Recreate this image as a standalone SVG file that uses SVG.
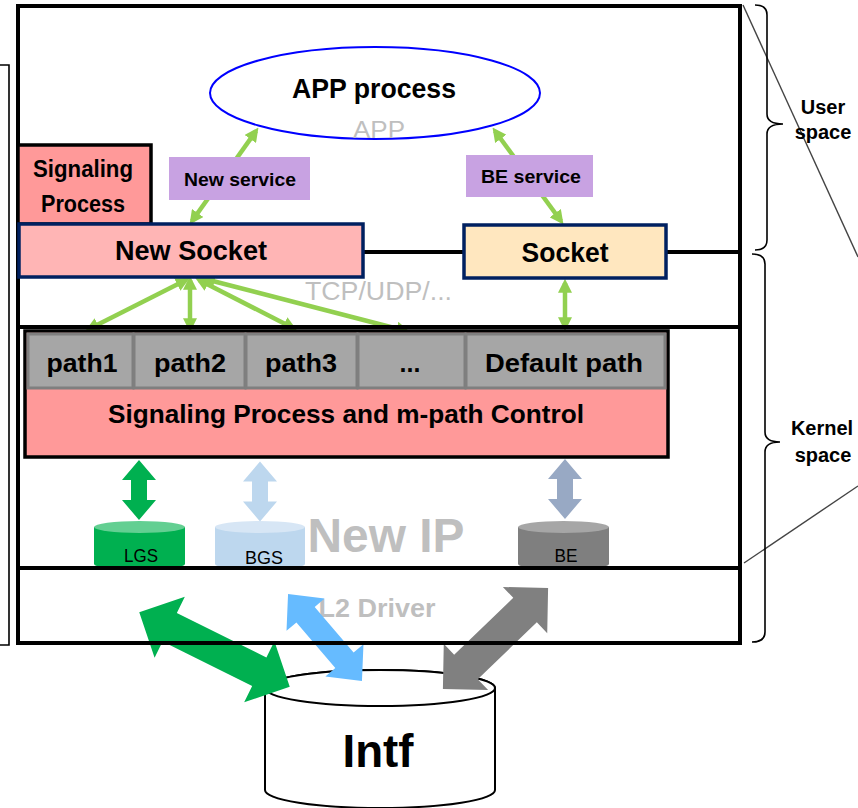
<svg xmlns="http://www.w3.org/2000/svg" width="858" height="808" viewBox="0 0 858 808">
<style>
.t{font-family:"Liberation Sans",Arial,sans-serif;font-weight:bold;fill:#000;text-anchor:middle}
.g{font-family:"Liberation Sans",Arial,sans-serif;fill:#bfbfbf;text-anchor:middle}
.frame{fill:none;stroke:#000;stroke-width:4}
.thin{fill:none;stroke:#000;stroke-width:1.6}
.diag{fill:none;stroke:#444;stroke-width:1.4}
.ga{stroke:#92d050;stroke-width:4.5;fill:none;marker-start:url(#ah);marker-end:url(#ah)}
.svc{fill:#c8a2e2}
.cell{fill:#a6a6a6;stroke:#7f7f7f;stroke-width:3}
</style>
<defs>
<marker id="ah" viewBox="0 0 10 10" refX="7" refY="5" markerWidth="14" markerHeight="14" markerUnits="userSpaceOnUse" orient="auto-start-reverse">
<path d="M0,0 L10,5 L0,10 z" fill="#92d050"/>
</marker>
<polygon id="vdbl" points="0,-30 -17,-10 -8,-10 -8,10 -17,10 0,30 17,10 8,10 8,-10 17,-10"/>
</defs>
<rect width="858" height="808" fill="#fff"/>

<!-- left bracket -->
<path class="thin" d="M0,65 L9,65 L9,645 L0,645"/>

<!-- side annotations -->
<g id="side">
<path class="diag" d="M743,5 L858,257"/>
<path class="diag" d="M744,563 L858,486"/>
<path class="thin" d="M755,5 Q767,5 767,15 L767,114 Q767,124 783,124 Q767,124 767,134 L767,240 Q767,250 755,250"/>
<path class="thin" d="M752,254 Q765,254 765,264 L765,432 Q765,442 780,442 Q765,442 765,452 L765,632 Q765,642 752,642"/>
<text class="t" x="823" y="114" font-size="20">User</text>
<text class="t" x="823" y="139" font-size="20">space</text>
<text class="t" x="822" y="435" font-size="20">Kernel</text>
<text class="t" x="823" y="462" font-size="20">space</text>
</g>

<!-- Intf cylinder -->
<g id="intf">
<path d="M265,688 L265,790 A115,18 0 0 0 495,790 L495,688 A115,18 0 0 0 265,688 z" fill="#fff" stroke="#000" stroke-width="2"/>
<ellipse cx="380" cy="688" rx="115" ry="18" fill="#fff" stroke="#000" stroke-width="2"/>
<text class="t" x="378" y="767" font-size="46" textLength="71" lengthAdjust="spacingAndGlyphs">Intf</text>
</g>

<text class="g" x="377" y="617" font-size="25" font-weight="bold" textLength="117" lengthAdjust="spacingAndGlyphs">L2 Driver</text>

<!-- big arrows to Intf -->
<g id="connectors">
<polygon fill="#00b050" transform="translate(214.5,649.5) rotate(26.4)" points="-84,0 -50,-34 -50,-16 50,-16 50,-34 84,0 50,34 50,16 -50,16 -50,34"/>
<polygon fill="#66bbff" transform="translate(325,637.5) rotate(49.6)" points="-57,0 -30,-25 -30,-12 30,-12 30,-25 57,0 30,25 30,12 -30,12 -30,25"/>
<polygon fill="#808080" transform="translate(495.5,638.5) rotate(-43.9)" points="-73,0 -41,-32 -41,-17 41,-17 41,-32 73,0 41,32 41,17 -41,17 -41,32"/>

<use href="#vdbl" x="139" y="490" fill="#00b050"/>
<use href="#vdbl" x="260" y="491.5" fill="#bdd7ee"/>
<use href="#vdbl" x="565" y="489" fill="#98a9c4"/>

<line class="ga" x1="256" y1="131" x2="192" y2="221"/>
<line class="ga" x1="495" y1="131" x2="561" y2="221"/>
<line class="ga" x1="565" y1="283" x2="565" y2="327"/>
<line class="ga" x1="186" y1="280" x2="89" y2="329"/>
<line class="ga" x1="190" y1="280" x2="190" y2="328"/>
<line class="ga" x1="199" y1="280" x2="293" y2="328"/>
<line class="ga" x1="205" y1="279" x2="406" y2="331"/>
</g>

<!-- frame -->
<g id="frame">
<rect class="frame" x="18" y="6" width="722" height="637"/>
<line class="frame" x1="18" y1="252" x2="740" y2="252"/>
<line class="frame" x1="18" y1="327" x2="740" y2="327"/>
<line class="frame" x1="18" y1="568" x2="740" y2="568"/>
</g>

<!-- APP -->
<g id="app">
<ellipse cx="375" cy="93" rx="165" ry="46" fill="none" stroke="#0000ff" stroke-width="2"/>
<text class="t" x="374" y="98" font-size="28" textLength="164" lengthAdjust="spacingAndGlyphs">APP process</text>
<text class="g" x="379" y="138" font-size="24" textLength="52" lengthAdjust="spacingAndGlyphs">APP</text>
</g>

<g id="new-service">
<rect class="svc" x="169" y="157" width="141" height="43"/>
<text class="t" x="240" y="186" font-size="19" textLength="112" lengthAdjust="spacingAndGlyphs">New service</text>
</g>
<g id="be-service">
<rect class="svc" x="466" y="155" width="127" height="42"/>
<text class="t" x="531" y="183" font-size="19" textLength="100" lengthAdjust="spacingAndGlyphs">BE service</text>
</g>

<g id="signaling-process">
<rect x="18" y="145" width="133" height="79" fill="#ff9999" stroke="#000" stroke-width="3.5"/>
<text class="t" x="83" y="177" font-size="23" textLength="100" lengthAdjust="spacingAndGlyphs">Signaling</text>
<text class="t" x="83" y="212" font-size="23" textLength="84" lengthAdjust="spacingAndGlyphs">Process</text>
</g>

<g id="new-socket">
<rect x="19" y="224" width="344" height="53" fill="#ffb5b5" stroke="#002060" stroke-width="3.5"/>
<text class="t" x="191" y="260" font-size="27" textLength="152" lengthAdjust="spacingAndGlyphs">New Socket</text>
</g>
<g id="socket">
<rect x="464" y="225" width="202" height="53" fill="#ffe7bf" stroke="#002060" stroke-width="3.5"/>
<text class="t" x="565" y="262" font-size="27" textLength="87" lengthAdjust="spacingAndGlyphs">Socket</text>
</g>

<text class="g" x="305" y="300" font-size="26" text-anchor="start" style="text-anchor:start" textLength="147" lengthAdjust="spacingAndGlyphs">TCP/UDP/...</text>

<!-- kernel control -->
<g id="mpath-control">
<rect x="25" y="331" width="643" height="126" fill="#ff9999" stroke="#000" stroke-width="3.5"/>
<text class="t" x="346" y="423" font-size="26" textLength="476" lengthAdjust="spacingAndGlyphs">Signaling Process and m-path Control</text>
</g>
<g id="path1"><rect class="cell" x="28" y="334" width="105" height="54"/><text class="t" x="82" y="372" font-size="25" textLength="71" lengthAdjust="spacingAndGlyphs">path1</text></g>
<g id="path2"><rect class="cell" x="134" y="334" width="111" height="54"/><text class="t" x="190" y="372" font-size="25" textLength="72" lengthAdjust="spacingAndGlyphs">path2</text></g>
<g id="path3"><rect class="cell" x="246" y="334" width="111" height="54"/><text class="t" x="301" y="372" font-size="25" textLength="72" lengthAdjust="spacingAndGlyphs">path3</text></g>
<g id="path-more"><rect class="cell" x="358" y="334" width="107" height="54"/><text class="t" x="410" y="372" font-size="25">...</text></g>
<g id="default-path"><rect class="cell" x="466" y="334" width="199" height="54"/><text class="t" x="564" y="372" font-size="25" textLength="158" lengthAdjust="spacingAndGlyphs">Default path</text></g>

<text class="g" x="386" y="552" font-size="48" font-weight="bold" textLength="157" lengthAdjust="spacingAndGlyphs">New IP</text>

<!-- queues -->
<g id="lgs">
<path d="M94,527 L94,564 A45.5,6 0 0 0 185,564 L185,527 z" fill="#00b050"/>
<ellipse cx="139.5" cy="527" rx="45.5" ry="6" fill="#63cf92"/>
<text x="141" y="562" font-family="Liberation Sans,Arial,sans-serif" font-size="18" text-anchor="middle" textLength="34" lengthAdjust="spacingAndGlyphs">LGS</text>
</g>
<g id="bgs">
<path d="M215,527 L215,564 A45,6 0 0 0 305,564 L305,527 z" fill="#bdd7ee"/>
<ellipse cx="260" cy="527" rx="45" ry="6" fill="#d7e6f5"/>
<text x="264" y="564" font-family="Liberation Sans,Arial,sans-serif" font-size="18" text-anchor="middle" textLength="38" lengthAdjust="spacingAndGlyphs">BGS</text>
</g>
<g id="be">
<path d="M518,527 L518,564 A45.5,6 0 0 0 609,564 L609,527 z" fill="#7f7f7f"/>
<ellipse cx="563.5" cy="527" rx="45.5" ry="6" fill="#a6a6a6"/>
<text x="566" y="562" font-family="Liberation Sans,Arial,sans-serif" font-size="18" text-anchor="middle" textLength="23" lengthAdjust="spacingAndGlyphs">BE</text>
</g>
<line class="frame" x1="18" y1="568" x2="740" y2="568"/>
</svg>
